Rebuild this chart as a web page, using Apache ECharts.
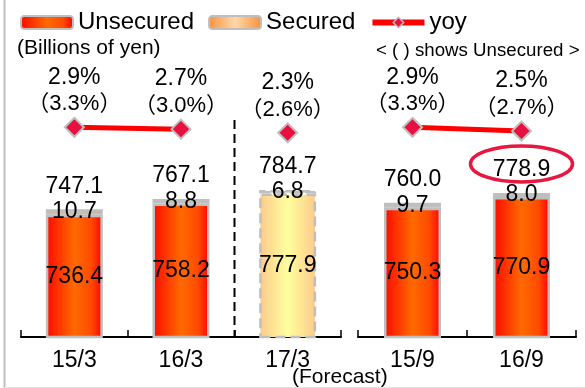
<!DOCTYPE html>
<html><head><meta charset="utf-8">
<script src="https://cdn.jsdelivr.net/npm/echarts@6/dist/echarts.min.js"></script>
<style>html,body{margin:0;padding:0;background:#fff}#c{width:585px;height:388px}</style>
</head><body><div id="c"></div>
<script>
// ---- data ----
const categoriesFY = ['15/3', '16/3', '17/3'];
const categoriesH = ['15/9', '16/9'];
const unsecuredFY = [736.4, 758.2, 777.9];
const securedFY = [10.7, 8.8, 6.8];
const totalFY = [747.1, 767.1, 784.7];
const yoyFY = [2.9, 2.7, 2.3];
const yoyUnsecuredFY = [3.3, 3.0, 2.6];
const unsecuredH = [750.3, 770.9];
const securedH = [9.7, 8.0];
const totalH = [760.0, 778.9];
const yoyH = [2.9, 2.5];
const yoyUnsecuredH = [3.3, 2.7];
const forecastIndex = 2;        // 17/3 is a forecast
const highlightTotalIndex = 1;  // circled total in second panel

// ---- styles ----
const FONT = "'Liberation Sans', Arial, 'Noto Sans CJK JP', sans-serif";
const G = echarts.graphic.LinearGradient;
const unsecColor = () => new G(0, 0, 1, 0, [{offset: 0, color: '#FF0800'}, {offset: 0.5, color: '#FF6A00'}, {offset: 0.8, color: '#FF4A00'}, {offset: 1, color: '#FF0000'}]);
const secColor = () => new G(0, 0, 1, 0, [{offset: 0, color: '#F7923A'}, {offset: 0.5, color: '#FFD7A8'}, {offset: 1, color: '#F7923A'}]);
const fcColor = () => new G(0, 0, 1, 0, [{offset: 0, color: '#FCC98C'}, {offset: 0.5, color: '#FFFF9E'}, {offset: 1, color: '#FCC98C'}]);
const forecastStyle = {color: fcColor(), borderColor: '#BFBFBF', borderWidth: 2.5, borderType: 'dashed'};

const barBase = {
  type: 'bar', barWidth: 57,
  label: {show: true, position: 'inside', color: '#000', fontSize: 23, fontFamily: FONT,
          formatter: p => Number(p.value).toFixed(1)}
};

function barData(arr, fcIdx) {
  return arr.map((v, i) => i === fcIdx ? {value: v, itemStyle: forecastStyle} : v);
}

function totalSeries(xi, yi, cats, totals) {
  return {
    type: 'scatter', name: 'total', xAxisIndex: xi, yAxisIndex: yi, symbolSize: 1, clip: false,
    itemStyle: {color: 'rgba(0,0,0,0)', opacity: 1}, silent: true,
    data: totals.map((v, i) => [cats[i], v]),
    label: {show: true, position: 'top', distance: 11, color: '#000', fontSize: 23, fontFamily: FONT,
            formatter: p => p.value[1].toFixed(1)}
  };
}

function yoySeries(xi, yi, data, paren) {
  return {
    type: 'line', name: 'yoy', xAxisIndex: xi, yAxisIndex: yi, clip: false,
    symbol: 'diamond', symbolSize: 19, showSymbol: true,
    lineStyle: {color: '#FF0000', width: 5},
    itemStyle: {color: '#E8103F', borderColor: '#BFBFBF', borderWidth: 2},
    z: 5,
    data: data,
    label: {show: true, position: 'top', distance: -1, fontFamily: FONT, color: '#000',
      formatter: p => '{a|' + Number(p.value).toFixed(1) + '%}\n{b|（' + paren[p.dataIndex].toFixed(1) + '%）}',
      rich: {a: {fontSize: 23, lineHeight: 27, fontFamily: FONT, color: '#000'},
             b: {fontSize: 22, lineHeight: 27, fontFamily: FONT, color: '#000'}}}
  };
}

const yoyFYJoined = yoyFY.map((v, i) => i === forecastIndex ? '-' : v);
const yoyFYForecast = yoyFY.map((v, i) => i === forecastIndex ? v : '-');

const xAxisCommon = {
  type: 'category', position: 'bottom',
  axisLine: {show: true, onZero: false, lineStyle: {color: '#000', width: 2}},
  axisTick: {show: true, inside: true, length: 7, lineStyle: {color: '#000', width: 1.5}},
  axisLabel: {color: '#000', fontSize: 23, fontFamily: FONT, margin: 12},
  splitLine: {show: false}
};

const chart = echarts.init(document.getElementById('c'), null, {renderer: 'canvas'});
chart.setOption({
  animation: false,
  backgroundColor: '#fff',
  textStyle: {fontFamily: FONT},
  grid: [
    {left: 21, right: 244, top: 120, bottom: 51},
    {left: 358, right: 9, top: 120, bottom: 51}
  ],
  legend: {
    data: ['Unsecured', 'Secured', {name: 'yoy', lineStyle: {width: 6, color: '#FF0000'}, itemStyle: {color: '#E8103F', borderColor: '#BFBFBF', borderWidth: 1.5}}],
    left: 20, top: 10.5, padding: 0, itemWidth: 52, itemHeight: 13, itemGap: 14,
    textStyle: {fontSize: 24, color: '#000', fontFamily: FONT},
    selectedMode: false
  },
  xAxis: [
    Object.assign({}, xAxisCommon, {gridIndex: 0, data: categoriesFY}),
    Object.assign({}, xAxisCommon, {gridIndex: 1, data: categoriesH})
  ],
  yAxis: [
    {type: 'value', gridIndex: 0, min: 500, max: 920, show: false},
    {type: 'value', gridIndex: 0, min: -20, max: 3.7, show: false},
    {type: 'value', gridIndex: 1, min: 500, max: 920, show: false},
    {type: 'value', gridIndex: 1, min: -20, max: 3.7, show: false}
  ],
  series: [
    Object.assign({}, barBase, {name: 'Unsecured', xAxisIndex: 0, yAxisIndex: 0, stack: 's0',
      itemStyle: {color: unsecColor(), borderColor: '#BFBFBF', borderWidth: 2.5},
      data: barData(unsecuredFY, forecastIndex)}),
    Object.assign({}, barBase, {name: 'Secured', xAxisIndex: 0, yAxisIndex: 0, stack: 's0',
      itemStyle: {color: secColor(), borderColor: '#BFBFBF', borderWidth: 2.5},
      data: barData(securedFY, forecastIndex)}),
    totalSeries(0, 0, categoriesFY, totalFY),
    yoySeries(0, 1, yoyFYJoined, yoyUnsecuredFY),
    yoySeries(0, 1, yoyFYForecast, yoyUnsecuredFY),
    Object.assign({}, barBase, {name: 'Unsecured', xAxisIndex: 1, yAxisIndex: 2, stack: 's1',
      itemStyle: {color: unsecColor(), borderColor: '#BFBFBF', borderWidth: 2.5},
      data: barData(unsecuredH, -1)}),
    Object.assign({}, barBase, {name: 'Secured', xAxisIndex: 1, yAxisIndex: 2, stack: 's1',
      itemStyle: {color: secColor(), borderColor: '#BFBFBF', borderWidth: 2.5},
      data: barData(securedH, -1)}),
    totalSeries(1, 2, categoriesH, totalH),
    yoySeries(1, 3, yoyH, yoyUnsecuredH)
  ]
});

// annotations positioned through the axes
const hl = chart.convertToPixel({xAxisIndex: 1, yAxisIndex: 2}, [categoriesH[highlightTotalIndex], totalH[highlightTotalIndex]]);
const pA = chart.convertToPixel({xAxisIndex: 0, yAxisIndex: 0}, [categoriesFY[forecastIndex - 1], 920]);
const pB = chart.convertToPixel({xAxisIndex: 0, yAxisIndex: 0}, [categoriesFY[forecastIndex], 500]);
const divX = Math.round((pA[0] + pB[0]) / 2) + 0.5;
chart.setOption({
  graphic: [
    {type: 'line', shape: {x1: 4.5, y1: 0, x2: 4.5, y2: 388}, style: {stroke: '#BFBFBF', lineWidth: 2}, silent: true},
    {type: 'line', shape: {x1: 4, y1: 387.5, x2: 585, y2: 387.5}, style: {stroke: '#E3E3E3', lineWidth: 1}, silent: true},
    {type: 'line', shape: {x1: divX, y1: pA[1], x2: divX, y2: pB[1]}, style: {stroke: '#000', lineWidth: 2, lineDash: [9, 5]}, silent: true, z: 1},
    {type: 'text', left: 17, top: 38, style: {text: '(Billions of yen)', fontSize: 21, fontFamily: FONT, fill: '#000'}},
    {type: 'text', left: 376, top: 42, style: {text: '< ( ) shows Unsecured >', fontSize: 18.7, fontFamily: FONT, fill: '#000'}},
    {type: 'text', left: 292, top: 367, style: {text: '(Forecast)', fontSize: 21, fontFamily: FONT, fill: '#000'}},
    {type: 'ellipse', shape: {cx: hl[0], cy: hl[1] - 29, rx: 51, ry: 18}, style: {fill: 'none', stroke: '#E8173F', lineWidth: 3.5}, silent: true, z: 10}
  ]
});
</script></body></html>
